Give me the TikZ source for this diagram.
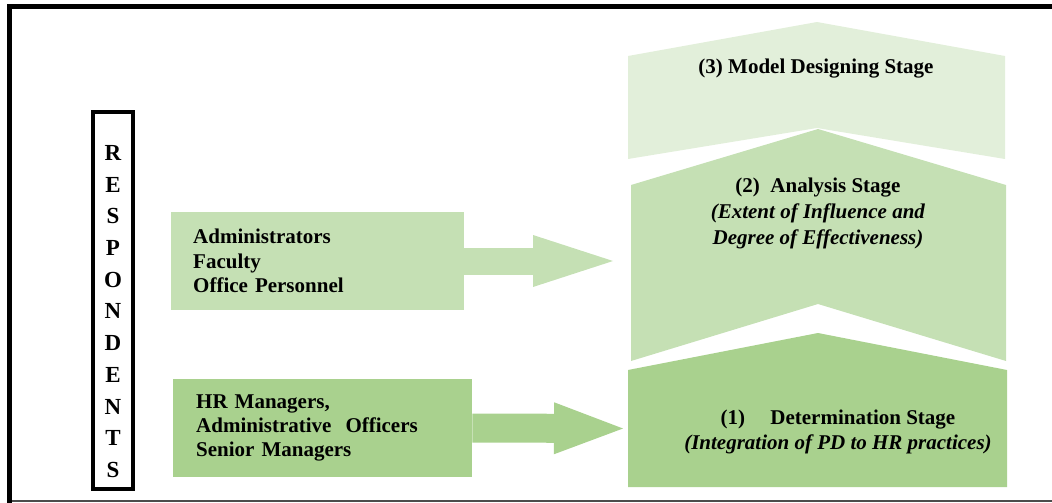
\documentclass[tikz,border=0pt]{standalone}
\usepackage{fontspec}
\setmainfont{Liberation Serif}
\usetikzlibrary{arrows.meta}

\definecolor{pale}{HTML}{E2EFDA}
\definecolor{light}{HTML}{C5E0B4}
\definecolor{mid}{HTML}{A9D18E}

\begin{document}
\begin{tikzpicture}
[x=1pt,y=-1pt,font=\fontsize{21}{24.5}\selectfont\bfseries,
 group/.style={rectangle,minimum height=98pt,align=left,anchor=west},
 flow/.style n args={3}{line width=#1,-{Triangle[width=#2,length=#3,line width=0pt]}}]
\useasboundingbox (0,0) rectangle (1052,503);

% page frame
\draw[line width=5pt] (9.5,503) -- (9.5,6.5) -- (1052,6.5);
\draw[line width=1.5pt,black!70] (12,501) -- (1052,501);

% respondents column
\node[draw,line width=4pt,minimum width=40pt,minimum height=377pt,inner sep=0pt] (resp) at (113,300.5) {};
\node[align=center,font=\fontsize{23}{31.7}\selectfont\bfseries] (respText) at (113,311.5)
  {R\\E\\S\\P\\O\\N\\D\\E\\N\\T\\S};

% the three stages
\fill[pale] (628,56) -- (817,22) -- (1005,56) -- (1005,159) -- (817,128) -- (628,159) -- cycle;
\fill[light] (631,185) -- (818,129) -- (1006,185) -- (1006,361) -- (818,304) -- (631,361) -- cycle;
\fill[mid] (628,370) -- (818,333) -- (1007,370) -- (1007,487) -- (628,487) -- cycle;

\node (design) at (816,69) {(3) Model Designing Stage};
\node[align=center,font=\fontsize{21}{26}\selectfont\bfseries] (analysis) at (818,213)
  {(2)\ \ Analysis Stage\\\textit{(Extent of Influence and}\\\textit{Degree of Effectiveness)}};
\node[align=center,font=\fontsize{21}{25}\selectfont\bfseries] (determination) at (838,432)
  {(1)\hspace{1.2em}Determination Stage\\\textit{(Integration of PD to HR practices)}};

% respondent groups
\node[group,fill=light,minimum width=293pt,text width=249pt,inner xsep=22pt] (staff) at (171,261)
  {Administrators\\Faculty\\Office Personnel};
\node[group,fill=mid,minimum width=299pt,text width=253pt,inner xsep=23pt,font=\fontsize{21}{24}\selectfont\bfseries] (managers) at (173,428)
  {HR Managers,\\Administrative\ \ Officers\\Senior Managers};

\coordinate (staffTip) at (613,261);
\coordinate (managersTip) at (623,428.5);

\draw[light,flow={27pt}{52pt}{80pt}] (staff.east) -- (staffTip);
\draw[mid,flow={29pt}{52pt}{69pt}] (managers.east) -- (managersTip);
\end{tikzpicture}
\end{document}
